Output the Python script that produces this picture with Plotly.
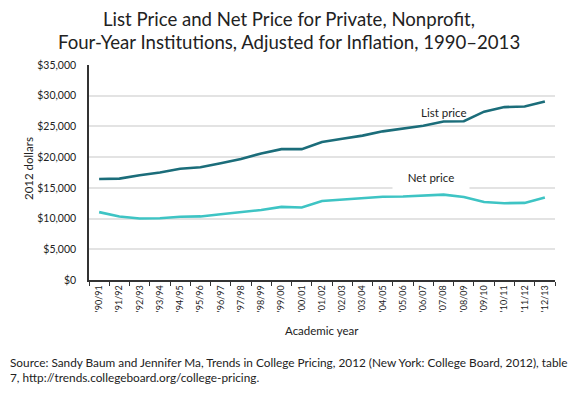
import plotly.graph_objects as go

years = ["'90/91", "'91/92", "'92/93", "'93/94", "'94/95", "'95/96", "'96/97", "'97/98",
         "'98/99", "'99/00", "'00/01", "'01/02", "'02/03", "'03/04", "'04/05", "'05/06",
         "'06/07", "'07/08", "'08/09", "'09/10", "'10/11", "'11/12", "'12/13"]
list_price = [16450, 16500, 17050, 17500, 18100, 18350, 19000, 19700, 20600, 21300, 21300,
              22450, 23000, 23500, 24200, 24600, 25100, 25800, 25850, 27400, 28150, 28250, 29050]
net_price = [11050, 10350, 10000, 10050, 10300, 10350, 10700, 11000, 11400, 11900, 11800,
             12850, 13100, 13300, 13550, 13600, 13700, 13900, 13500, 12700, 12500, 12550, 13450]

FONT = "Lato"
TXT = "#222"
fig = go.Figure()
fig.add_trace(go.Scatter(x=years, y=list_price, mode="lines", name="List price",
                         line=dict(color="#1b6d7a", width=2.6)))
fig.add_trace(go.Scatter(x=years, y=net_price, mode="lines", name="Net price",
                         line=dict(color="#3ec4c4", width=2.6)))

fig.add_annotation(x=years[17], y=27300, text="List price", showarrow=False,
                   font=dict(family=FONT, size=11.5, color=TXT))
fig.add_annotation(x=years[16], y=16700, text="Net price", showarrow=False,
                   font=dict(family=FONT, size=11.5, color=TXT), bgcolor="white",
                   width=66, height=14, borderpad=5, xshift=8)

# figure sits at the page's 8px body margin: size and margins compensate
PLOT_L, PLOT_W = 81, 466
PLOT_TOP, PLOT_H = 57, 215
def px(x_fig):
    return (x_fig - PLOT_L) / PLOT_W
def py(y_fig):
    return 1 + (PLOT_TOP - y_fig) / PLOT_H

fig.add_annotation(xref="paper", yref="paper", x=px(281), y=py(11), xanchor="center", yanchor="middle",
                   showarrow=False, text="List Price and Net Price for Private, Nonprofit,",
                   font=dict(family=FONT, size=18.6, color=TXT))
fig.add_annotation(xref="paper", yref="paper", x=px(281), y=py(34), xanchor="center", yanchor="middle",
                   showarrow=False, text="Four-Year Institutions, Adjusted for Inflation, 1990–2013",
                   font=dict(family=FONT, size=18.6, color=TXT))

# axis titles
fig.add_annotation(xref="paper", yref="paper", x=px(20), y=py(160), xanchor="center", yanchor="middle",
                   showarrow=False, text="2012 dollars", textangle=-90,
                   font=dict(family=FONT, size=11.5, color=TXT))
fig.add_annotation(xref="paper", yref="paper", x=px(314), y=py(322), xanchor="center", yanchor="middle",
                   showarrow=False, text="Academic year",
                   font=dict(family=FONT, size=11.5, color=TXT))

fig.update_layout(
    width=577, height=391,
    margin=dict(l=PLOT_L, r=30, t=PLOT_TOP, b=119),
    paper_bgcolor="white", plot_bgcolor="white",
    showlegend=False,
    font=dict(family=FONT, size=11, color=TXT),
    xaxis=dict(type="category", range=[-0.5, len(years) - 0.5], tickangle=-90, ticks="outside",
               ticklen=4, tickcolor="#333", tickson="boundaries", showgrid=False, showline=True,
               linecolor="#333", linewidth=1.5, automargin=False,
               tickfont=dict(family=FONT, size=9, color=TXT)),
    yaxis=dict(range=[0, 35000], dtick=5000, tickprefix="$", tickformat=",",
               showgrid=True, gridcolor="#e3e3e3", gridwidth=1.5, showline=True, linecolor="#333",
               linewidth=1.5, zeroline=False, ticks="", ticklabelstandoff=9, automargin=False,
               tickfont=dict(family=FONT, size=10.5, color=TXT)),
)

fig.add_annotation(xref="paper", yref="paper", x=px(0), y=py(345), xanchor="left", yanchor="top",
                   align="left", showarrow=False,
                   text="Source: Sandy Baum and Jennifer Ma, Trends in College Pricing, 2012 (New York: College Board, 2012), table<br>7, http://trends.collegeboard.org/college-pricing.",
                   font=dict(family=FONT, size=11.8, color=TXT))

fig.write_html("out.html")
